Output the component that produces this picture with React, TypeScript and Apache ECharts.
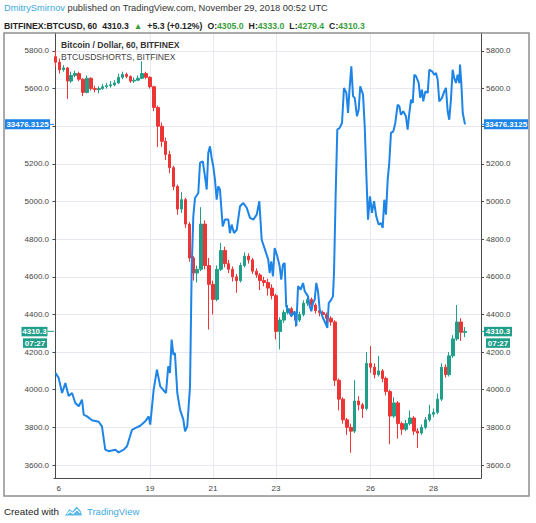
import React, { useEffect, useRef } from "react";
import * as echarts from "echarts";

// hours since Nov 16 00:00 UTC (3-hour candles)
const candleHours = [0,3,6,9,12,15,18,21,24,27,30,33,36,39,42,45,48,51,54,57,60,63,66,69,72,75,78,81,84,87,90,93,96,99,102,105,108,111,114,117,120,123,126,129,132,135,138,141,144,147,150,153,156,159,162,165,168,171,174,177,180,183,186,189,192,195,198,201,204,207,210,213,216,219,222,225,228,231,234,237,240,243,246,249,252,255,258,261,264,267,270,273,276,279,282,285,288,291,294,297,300,303,306,309,312];
const opens = [5770,5740,5700,5710,5640,5670,5680,5650,5580,5655,5600,5595,5600,5610,5615,5620,5630,5660,5675,5665,5640,5645,5655,5680,5660,5610,5500,5400,5320,5250,5180,5080,4960,5010,4880,4700,4620,4640,4880,4660,4560,4480,4640,4740,4670,4640,4600,4580,4660,4710,4690,4630,4610,4580,4570,4540,4500,4310,4370,4410,4430,4400,4370,4400,4460,4480,4450,4420,4410,4400,4380,4360,4050,3950,3840,3800,3780,3940,3920,3900,4140,4120,4080,4100,4060,3990,3860,3930,3820,3790,3820,3850,3780,3770,3800,3840,3870,3880,3950,4120,4080,4180,4270,4360,4305];
const closes = [5740,5700,5710,5640,5670,5680,5650,5580,5655,5600,5595,5600,5610,5615,5620,5630,5660,5675,5665,5640,5645,5655,5680,5660,5610,5500,5400,5320,5250,5180,5080,4960,5010,4880,4700,4620,4640,4880,4660,4560,4480,4640,4740,4670,4640,4600,4580,4660,4710,4690,4630,4610,4580,4570,4540,4500,4310,4370,4410,4430,4400,4370,4400,4460,4480,4450,4420,4410,4400,4380,4360,4050,3950,3840,3800,3780,3940,3920,3900,4140,4120,4080,4100,4060,3990,3860,3930,3820,3790,3820,3850,3780,3770,3800,3840,3870,3880,3950,4120,4080,4180,4270,4360,4305,4310.3];
const lows = [5715,5680,5690,5545,5630,5660,5640,5560,5575,5590,5580,5575,5595,5600,5605,5612,5625,5650,5655,5630,5630,5640,5650,5650,5600,5480,5290,5290,5220,5150,5060,4930,4940,4860,4680,4580,4570,4630,4640,4320,4400,4470,4630,4650,4620,4575,4515,4570,4650,4670,4615,4595,4530,4550,4500,4480,4267,4214,4355,4400,4385,4335,4360,4390,4445,4435,4405,4390,4385,4350,4340,4020,3890,3820,3760,3665,3770,3890,3850,3890,4090,4060,4070,4040,3970,3710,3850,3740,3760,3780,3810,3760,3690,3760,3790,3830,3855,3870,3940,4065,4070,4170,4260,4260,4279.4];
const highs = [5800,5760,5725,5715,5690,5695,5690,5655,5670,5660,5615,5612,5625,5630,5640,5645,5680,5690,5685,5670,5660,5670,5745,5690,5665,5615,5510,5420,5340,5270,5190,5090,5050,5020,4890,4710,4660,4970,4900,4700,4580,4660,4780,4760,4690,4655,4615,4675,4730,4725,4700,4645,4620,4600,4590,4560,4510,4385,4425,4450,4440,4410,4415,4475,4510,4490,4460,4430,4420,4410,4390,4370,4060,3960,3850,3820,4050,3965,3930,4200,4232,4140,4180,4110,4070,4000,3960,3940,3830,3840,3890,3860,3795,3815,3855,3920,3900,3980,4140,4135,4200,4290,4450,4380,4333];

// BTCUSDSHORTS (own hidden scale)
const shortsHours = [0,2.4,5.0,7.5,10.0,12.6,15.1,17.7,20.2,21.5,24.0,27.8,32.9,35.4,37.9,40.5,45.6,48.1,52.0,54.5,58.3,60.8,64.6,68.4,71.0,72.2,74.8,77.3,79.8,82.1,84.2,85.9,87.2,88.5,89.8,91.0,92.8,94.9,97.4,98.7,100.4,102.5,103.8,105.0,106.3,108.8,110.1,112.2,113.9,115.2,116.4,117.7,119.0,120.2,121.5,122.8,124.0,125.3,127.4,129.1,131.7,132.9,134.2,136.0,138.1,140.6,143.1,145.7,148.2,150.7,153.3,155.3,157.1,159.6,162.1,163.2,164.4,165.7,167.0,169.0,170.8,172.0,173.3,174.6,175.8,177.1,179.7,182.2,183.5,184.8,186.8,188.6,189.9,192.4,193.7,194.9,196.2,197.5,198.7,200.0,201.3,202.5,203.8,205.6,207.1,208.2,210.1,211.4,212.2,213.5,214.7,216.5,218.3,219.8,221.6,222.9,223.9,225.4,226.7,228.0,229.7,231.0,232.2,234.3,235.6,236.8,238.1,239.6,241.1,242.7,244.4,246.2,248.0,249.3,250.5,251.8,253.1,254.3,255.6,257.4,258.9,260.7,262.0,263.2,265.0,267.0,268.3,269.6,270.9,272.2,273.4,274.7,276.7,277.9,279.2,280.2,281.8,283.6,284.8,286.9,288.6,289.9,291.2,292.4,294.5,296.2,297.5,298.8,300.0,301.3,302.6,303.8,305.1,306.4,307.7,308.2,309.2,310.3,312.0];
const shortsValues = [20490,20230,19440,19960,19290,19440,18920,18750,19090,18310,18220,18020,17940,17700,16480,16400,16480,16340,16480,16660,17520,17610,17730,17960,18220,17790,19620,20660,19790,19600,19440,20840,20490,22230,21440,21530,19440,18570,18050,17440,17700,19790,26060,28670,29630,29890,31460,31550,30760,30070,31980,32330,31720,31290,30590,29540,30240,30070,28150,28500,28500,27800,28240,27800,27970,29200,29370,29110,28590,28500,28760,29460,27450,26930,26410,25710,26320,25540,27020,26580,26060,25360,26150,26230,23970,23800,23450,23710,22930,25020,24840,25190,24760,24490,23970,23710,24140,24320,25190,24760,23800,23620,23360,23100,22840,24140,24320,24490,25710,29890,33200,33290,33550,35380,35120,34070,35200,36510,34950,34860,33900,34240,35470,35030,33380,30940,28500,29720,28850,29460,28670,28240,28320,28060,29540,28760,30590,31460,33030,33110,33550,34510,34420,33980,34160,33900,33200,34070,34770,34590,36070,35990,35640,34860,35290,34680,35200,35120,36330,36250,36070,36160,35810,34680,34860,35200,35380,34160,33720,34770,36330,35900,35640,36070,35640,36600,35640,34070,33476.3125];

const priceTicks = [3600,3800,4000,4200,4400,4600,4800,5000,5200,5400,5600,5800];
// 5400.0 sits under the shorts value tag in the reference, so it is not printed
const priceLabels = [3600,3800,4000,4200,4400,4600,4800,5000,5200,5600,5800];
const dayGridHours = [72,120,168,240,288];
const dayLabelHours = [2.5,72,120,168,240,288];
const dayLabels = ["6","19","21","23","26","28"];
const countdownText = "07:27";

const FONT = '"Liberation Sans", Arial, sans-serif';
const UP = "#1f9e89";
const DOWN = "#ee3535";
const BLUE = "#1e84e6";
const TXT = "#333333";
const AX = "#4a4a4a";
const GRIDC = "#e6eaf0";
const GREENTXT = "#3a9e3a";

export default function App() {
  const ref = useRef<HTMLDivElement>(null);
  useEffect(() => {
    const chart = echarts.init(ref.current!, null, { renderer: "svg" });
    const yAxisBase = {
      type: "value",
      min: 3531,
      max: 5895.5,
      axisLine: { show: true, lineStyle: { color: AX, width: 1 } },
      axisTick: { show: true, length: 3, customValues: priceTicks, lineStyle: { color: AX } },
      axisLabel: {
        customValues: priceLabels,
        formatter: (v: number) => v.toFixed(1),
        color: "#444",
        fontSize: 8,
        fontFamily: FONT,
        margin: 5,
      },
    };
    const rs = (color: string, size: number, weight: string) => ({
      color, fontSize: size, fontWeight: weight, fontFamily: FONT, lineHeight: 12,
    });
    chart.setOption({
      animation: false,
      backgroundColor: "#ffffff",
      title: [
        {
          left: 4, top: 1.5, padding: 0,
          text: "{u|DmitrySmirnov}{t| published on TradingView.com, November 29, 2018 00:52 UTC}",
          textStyle: {
            fontWeight: "normal",
            rich: { u: rs("#3aa8dc", 9.3, "normal"), t: rs(TXT, 9.3, "normal") },
          },
        },
        {
          left: 4, top: 16.5, padding: 0,
          text: "{b|BITFINEX:BTCUSD, 60} {n|4310.3} {g|▲} {n|+5.3 (+0.12%)} {n|O:}{g|4305.0} {n|H:}{g|4333.0} {n|L:}{g|4279.4} {n|C:}{g|4310.3}",
          textStyle: {
            fontWeight: "bold",
            rich: { b: rs("#222", 8.7, "bold"), n: rs("#222", 8.7, "bold"), g: rs(GREENTXT, 8.7, "bold") },
          },
        },
        {
          left: 61, top: 38.7, padding: 0,
          text: "Bitcoin / Dollar, 60, BITFINEX",
          textStyle: { color: "#333", fontSize: 8.6, fontWeight: "bold", fontFamily: FONT, lineHeight: 12 },
        },
        {
          left: 61, top: 51, padding: 0,
          text: "BTCUSDSHORTS, BITFINEX",
          textStyle: { color: "#444", fontSize: 8.6, fontWeight: "normal", fontFamily: FONT, lineHeight: 12 },
        },
        {
          left: 4, top: 505.7, padding: 0,
          text: "Created with",
          textStyle: { color: "#222", fontSize: 9.8, fontWeight: "normal", fontFamily: FONT, lineHeight: 12 },
        },
        {
          left: 87, top: 505.7, padding: 0,
          text: "TradingView",
          textStyle: { color: "#3fa9e0", fontSize: 9.5, fontWeight: "normal", fontFamily: FONT, lineHeight: 12 },
        },
      ],
      grid: { left: 54, right: 55, top: 33, bottom: 45, containLabel: false },
      xAxis: {
        type: "value",
        min: -1.14,
        max: 324.2,
        axisLine: { show: true, lineStyle: { color: AX } },
        axisTick: { show: false, customValues: dayGridHours },
        axisLabel: {
          customValues: dayLabelHours,
          formatter: (v: number) => {
            const i = dayLabelHours.indexOf(v);
            return i >= 0 ? dayLabels[i] : "";
          },
          color: "#444",
          fontSize: 8,
          fontFamily: FONT,
          margin: 6,
        },
        splitLine: { show: true, lineStyle: { color: GRIDC, width: 1 } },
      },
      yAxis: [
        { ...yAxisBase, position: "left", splitLine: { show: true, lineStyle: { color: GRIDC, width: 1 } } },
        { ...yAxisBase, position: "right", splitLine: { show: false } },
        { type: "value", show: false, position: "right", min: 15000, max: 38250, splitLine: { show: false } },
      ],
      series: [
        {
          type: "candlestick",
          xAxisIndex: 0,
          yAxisIndex: 0,
          barWidth: 3,
          data: candleHours.map((h, i) => [h, opens[i], closes[i], lows[i], highs[i]]),
          encode: { x: 0, y: [1, 2, 3, 4] },
          itemStyle: { color: UP, color0: DOWN, borderColor: UP, borderColor0: DOWN, borderWidth: 1 },
          z: 2,
        },
        {
          type: "line",
          xAxisIndex: 0,
          yAxisIndex: 2,
          data: shortsHours.map((h, i) => [h, shortsValues[i]]),
          showSymbol: false,
          symbol: "none",
          lineStyle: { color: BLUE, width: 2 },
          z: 3,
        },
      ],
    });

    const lastS = shortsValues[shortsValues.length - 1];
    const lastP = closes[closes.length - 1];
    const yS = chart.convertToPixel({ yAxisIndex: 2 }, lastS) as number;
    const yP = chart.convertToPixel({ yAxisIndex: 0 }, lastP) as number;
    const boxText = (x: number, y: number, text: string) => ({
      type: "text",
      x, y,
      style: { text, fill: "#fff", fontSize: 8, fontWeight: "bold", fontFamily: FONT, align: "center", verticalAlign: "middle" },
      z: 20,
    });
    const box = (x: number, y: number, w: number, h: number, fill: string) => ({
      type: "rect",
      shape: { x, y, width: w, height: h },
      style: { fill },
      z: 19,
    });
    const dash = (x1: number, x2: number, y: number, color: string) => ({
      type: "line",
      shape: { x1, y1: y, x2, y2: y },
      style: { stroke: color, lineWidth: 1 },
      z: 19,
    });
    const sTxt = lastS.toFixed(4);
    const pTxt = lastP.toFixed(1);
    chart.setOption({
      graphic: [
        {
          type: "rect",
          shape: { x: 4, y: 33, width: 525, height: 463 },
          style: { fill: "none", stroke: "#8f8f8f", lineWidth: 1.5 },
          z: 18,
        },
        // shorts last value tags
        box(5, yS - 5, 45, 10, BLUE),
        boxText(27.5, yS, sTxt),
        dash(50, 54, yS, BLUE),
        dash(481, 484, yS, BLUE),
        box(484, yS - 5, 44, 10, BLUE),
        boxText(506, yS, sTxt),
        // last price tags
        box(21.5, yP - 4.5, 26, 9.5, UP),
        boxText(34.5, yP, pTxt),
        dash(47.5, 54, yP, UP),
        box(23, yP + 7, 24, 9.5, UP),
        boxText(35, yP + 11.8, countdownText),
        dash(481, 484, yP, UP),
        box(484, yP - 4.5, 28, 9.5, UP),
        boxText(498, yP, pTxt),
        box(486, yP + 7, 24, 9.5, UP),
        boxText(498, yP + 11.8, countdownText),
        // logo
        {
          type: "polygon",
          shape: { points: [[65, 515.5], [69.5, 509], [72.5, 511.5], [76.5, 506.5], [80.5, 510.5], [82, 515.5]] },
          style: { fill: "#5bb8e8" },
          z: 20,
        },
        {
          type: "polyline",
          shape: { points: [[67, 514], [70, 511.5], [73, 513.5], [77, 509.5], [80, 513]] },
          style: { stroke: "#ffffff", lineWidth: 1.1, fill: "none" },
          z: 21,
        },
      ],
    });
    return () => chart.dispose();
  }, []);
  return (
    <div
      ref={ref}
      style={{ position: "absolute", left: 0, top: 0, width: 536, height: 523, background: "#fff" }}
    />
  );
}
